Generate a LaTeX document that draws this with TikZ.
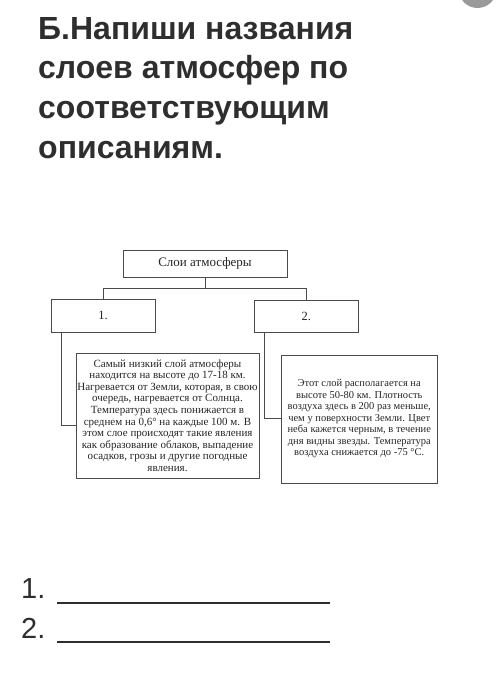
\documentclass[tikz,border=0pt]{standalone}
\usepackage{fontspec}
\setmainfont{Liberation Serif}
\newfontfamily\titlefont{Liberation Sans}
\definecolor{ink}{HTML}{2E2E2E}
\definecolor{boxline}{HTML}{4A4A4A}
\definecolor{dotgrey}{HTML}{9A9A9A}
\tikzset{
  ttl/.style={anchor=base west, inner sep=0pt, text=ink, font=\titlefont\bfseries\fontsize{32}{38}\selectfont},
  ans/.style={anchor=base west, inner sep=0pt, text=ink, font=\titlefont\fontsize{29}{36}\selectfont},
  ansline/.style={draw=ink, line width=2pt},
  boxnode/.style={draw=boxline, line width=0.9pt, inner sep=0pt, align=center, text=black!85},
  conn/.style={draw=boxline, line width=0.9pt}
}
\begin{document}
\begin{tikzpicture}[x=1pt,y=-1pt]
\useasboundingbox (0,0) rectangle (500,676);
\fill[white] (0,0) rectangle (500,676);
\fill[dotgrey] (477.5,-11) circle (19pt);
% title
\node[ttl] (t1) at (38,39.3) {Б.Напиши названия};
\node[ttl] (t2) at (38,79) {слоев атмосфер по};
\node[ttl] (t3) at (38,118.7) {соответствующим};
\node[ttl] (t4) at (38,158.3) {описаниям.};
% boxes
\node[boxnode, minimum width=164pt, minimum height=27pt, font=\fontsize{13}{15}\selectfont] (top) at (205,263.5) {Слои атмосферы};
\node[boxnode, minimum width=104pt, minimum height=32.5pt, font=\fontsize{12.5}{14}\selectfont] (b1) at (103,315.75) {1.};
\node[boxnode, minimum width=103.5pt, minimum height=32.5pt, font=\fontsize{12.5}{14}\selectfont] (b2) at (306.25,316.25) {2.};
\node[boxnode, font=\fontsize{11}{11.6}\selectfont, minimum width=183pt, minimum height=125pt] (b3) at (167.5,415.5) {Самый низкий слой атмосферы\\находится на высоте до 17-18 км.\\Нагревается от Земли, которая, в свою\\очередь, нагревается от Солнца.\\Температура здесь понижается в\\среднем на 0,6° на каждые 100 м. В\\этом слое происходят такие явления\\как образование облаков, выпадение\\осадков, грозы и другие погодные\\явления.};
\node[boxnode, font=\fontsize{10.5}{11.5}\selectfont, minimum width=155.5pt, minimum height=128pt] (b4) at (359.25,419) {Этот слой располагается на\\высоте 50-80 км. Плотность\\воздуха здесь в 200 раз меньше,\\чем у поверхности Земли. Цвет\\неба кажется черным, в течение\\дня видны звезды. Температура\\воздуха снижается до -75 °C.};
% connectors
\coordinate (j) at (205,288.3);
\draw[conn] (top.south) -- (j);
\draw[conn] (b1.north) |- (j) -| (b2.north);
\draw[conn] ([xshift=10.7pt]b1.south west) |- ([yshift=-9.5pt]b3.west);
\draw[conn] ([xshift=10.5pt]b2.south west) |- ([yshift=1pt]b4.west);
% answer lines
\node[ans] (a1) at (21,598) {1.};
\node[ans] (a2) at (21,638) {2.};
\coordinate (l1s) at (57,603);
\coordinate (l1e) at (330,603);
\coordinate (l2s) at (57,642);
\coordinate (l2e) at (330,642);
\draw[ansline] (l1s) -- (l1e);
\draw[ansline] (l2s) -- (l2e);
\end{tikzpicture}
\end{document}
